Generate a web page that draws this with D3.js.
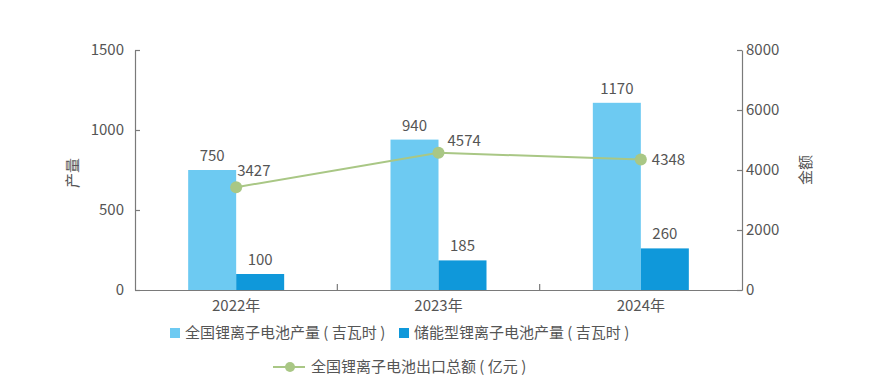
<!DOCTYPE html>
<html>
<head>
<meta charset="utf-8">
<script src="https://cdn.jsdelivr.net/npm/d3@7"></script>
<style>
  body { margin: 0; background: #fff; }
  text { font-family: "Noto Sans CJK SC", "Noto Sans", sans-serif; }
</style>
</head>
<body>
<div class="canvas"></div>
<script>
// data
const years = ['2022年', '2023年', '2024年'];
const totalOutput = [750, 940, 1170];      // 全国锂离子电池产量（吉瓦时）
const storageOutput = [100, 185, 260];     // 储能型锂离子电池产量（吉瓦时）
const exportValue = [3427, 4574, 4348];    // 全国锂离子电池出口总额（亿元）
const leftTicks = [0, 500, 1000, 1500];
const rightTicks = [0, 2000, 4000, 6000, 8000];

const colors = {
	total: '#6dcaf2',
	storage: '#0f98da',
	line: '#a9c785',
	text: '#555',
	axis: '#7a7a7a'
};

const svg = d3.select('.canvas')
	.append('svg')
	.attr('width', 879)
	.attr('height', 389);

const plot = { left: 135, right: 742, top: 50, bottom: 290 };

// scales
const x = d3.scaleBand()
	.domain(years)
	.range([plot.left, plot.right]);

const yLeft = d3.scaleLinear()
	.domain([0, 1500])
	.range([plot.bottom, plot.top]);

const yRight = d3.scaleLinear()
	.domain([0, 8000])
	.range([plot.bottom, plot.top]);

const barW = 48;
const center = d => x(d) + x.bandwidth() / 2;

// bars
const rows = years.map((y, i) => ({ year: y, total: totalOutput[i], storage: storageOutput[i], exp: exportValue[i] }));

svg.selectAll('rect.total')
	.data(rows)
	.enter()
	.append('rect')
	.attr('class', 'total')
	.attr('x', d => center(d.year) - barW)
	.attr('y', d => yLeft(d.total))
	.attr('width', barW)
	.attr('height', d => plot.bottom - yLeft(d.total))
	.attr('fill', colors.total);

svg.selectAll('rect.storage')
	.data(rows)
	.enter()
	.append('rect')
	.attr('class', 'storage')
	.attr('x', d => center(d.year))
	.attr('y', d => yLeft(d.storage))
	.attr('width', barW)
	.attr('height', d => plot.bottom - yLeft(d.storage))
	.attr('fill', colors.storage);

// bar labels
svg.selectAll('text.total')
	.data(rows)
	.enter()
	.append('text')
	.attr('x', d => center(d.year) - barW / 2)
	.attr('y', d => yLeft(d.total) - 9)
	.attr('text-anchor', 'middle')
	.attr('font-size', 15)
	.attr('fill', colors.text)
	.text(d => d.total);

svg.selectAll('text.storage')
	.data(rows)
	.enter()
	.append('text')
	.attr('x', d => center(d.year) + barW / 2)
	.attr('y', d => yLeft(d.storage) - 9)
	.attr('text-anchor', 'middle')
	.attr('font-size', 15)
	.attr('fill', colors.text)
	.text(d => d.storage);

// axes
const styleAxis = g => {
	g.select('.domain').attr('stroke', colors.axis).attr('stroke-width', 1.2);
	g.selectAll('.tick line').attr('stroke', colors.axis).attr('stroke-width', 1.2);
	g.selectAll('.tick text')
		.attr('fill', colors.text)
		.attr('font-size', 15)
		.attr('font-family', '"Noto Sans CJK SC", "Noto Sans", sans-serif');
};

svg.append('g')
	.attr('transform', `translate(${plot.left},0)`)
	.call(d3.axisLeft(yLeft).tickValues(leftTicks).tickFormat(d3.format('d')).tickSizeInner(-5).tickSizeOuter(0).tickPadding(11))
	.call(styleAxis);

svg.append('g')
	.attr('transform', `translate(${plot.right},0)`)
	.call(d3.axisRight(yRight).tickValues(rightTicks).tickFormat(d3.format('d')).tickSizeInner(-5).tickSizeOuter(0).tickPadding(4))
	.call(styleAxis);

const xAxis = svg.append('g')
	.attr('transform', `translate(0,${plot.bottom})`)
	.call(d3.axisBottom(x).tickSize(0).tickPadding(7))
	.call(styleAxis);
xAxis.selectAll('.tick text').attr('dy', '0.9em');

// boundary ticks between categories
svg.selectAll('line.sep')
	.data(years.slice(1))
	.enter()
	.append('line')
	.attr('x1', d => x(d))
	.attr('x2', d => x(d))
	.attr('y1', plot.bottom)
	.attr('y2', plot.bottom - 6)
	.attr('stroke', colors.axis)
	.attr('stroke-width', 1.2);

// axis titles
svg.append('text')
	.attr('transform', 'translate(78,173) rotate(-90)')
	.attr('text-anchor', 'middle')
	.attr('font-size', 15)
	.attr('fill', colors.text)
	.text('产量');

svg.append('text')
	.attr('transform', 'translate(811,170) rotate(-90)')
	.attr('text-anchor', 'middle')
	.attr('font-size', 15)
	.attr('fill', colors.text)
	.text('金额');

// line
const line = d3.line()
	.x(d => center(d.year))
	.y(d => yRight(d.exp));

svg.append('path')
	.datum(rows)
	.attr('d', line)
	.attr('fill', 'none')
	.attr('stroke', colors.line)
	.attr('stroke-width', 2);

svg.selectAll('circle.pt')
	.data(rows)
	.enter()
	.append('circle')
	.attr('cx', d => center(d.year))
	.attr('cy', d => yRight(d.exp))
	.attr('r', 6)
	.attr('fill', colors.line);

// line labels (nudged so they don't sit on the line)
const nudge = [[1, -11], [9, -7], [11, 5]];
svg.selectAll('text.exp')
	.data(rows)
	.enter()
	.append('text')
	.attr('x', (d, i) => center(d.year) + nudge[i][0])
	.attr('y', (d, i) => yRight(d.exp) + nudge[i][1])
	.attr('font-size', 15)
	.attr('fill', colors.text)
	.text(d => d.exp);

// legend
const legend = svg.append('g');
const legendItems = [
	{ label: '全国锂离子电池产量 ( 吉瓦时 )', color: colors.total, x: 170, y: 333 },
	{ label: '储能型锂离子电池产量 ( 吉瓦时 )', color: colors.storage, x: 399, y: 333 }
];
legendItems.forEach(d => {
	legend.append('rect')
		.attr('x', d.x)
		.attr('y', d.y - 5)
		.attr('width', 10)
		.attr('height', 10)
		.attr('fill', d.color);
	legend.append('text')
		.attr('x', d.x + 15)
		.attr('y', d.y)
		.attr('dy', '0.35em')
		.attr('font-size', 15)
		.attr('fill', colors.text)
		.text(d.label);
});

legend.append('line')
	.attr('x1', 273).attr('x2', 305)
	.attr('y1', 367).attr('y2', 367)
	.attr('stroke', colors.line)
	.attr('stroke-width', 2);
legend.append('circle')
	.attr('cx', 290).attr('cy', 367).attr('r', 5)
	.attr('fill', colors.line);
legend.append('text')
	.attr('x', 311)
	.attr('y', 367)
	.attr('dy', '0.35em')
	.attr('font-size', 15)
	.attr('fill', colors.text)
	.text('全国锂离子电池出口总额 ( 亿元 )');
</script>
</body>
</html>
